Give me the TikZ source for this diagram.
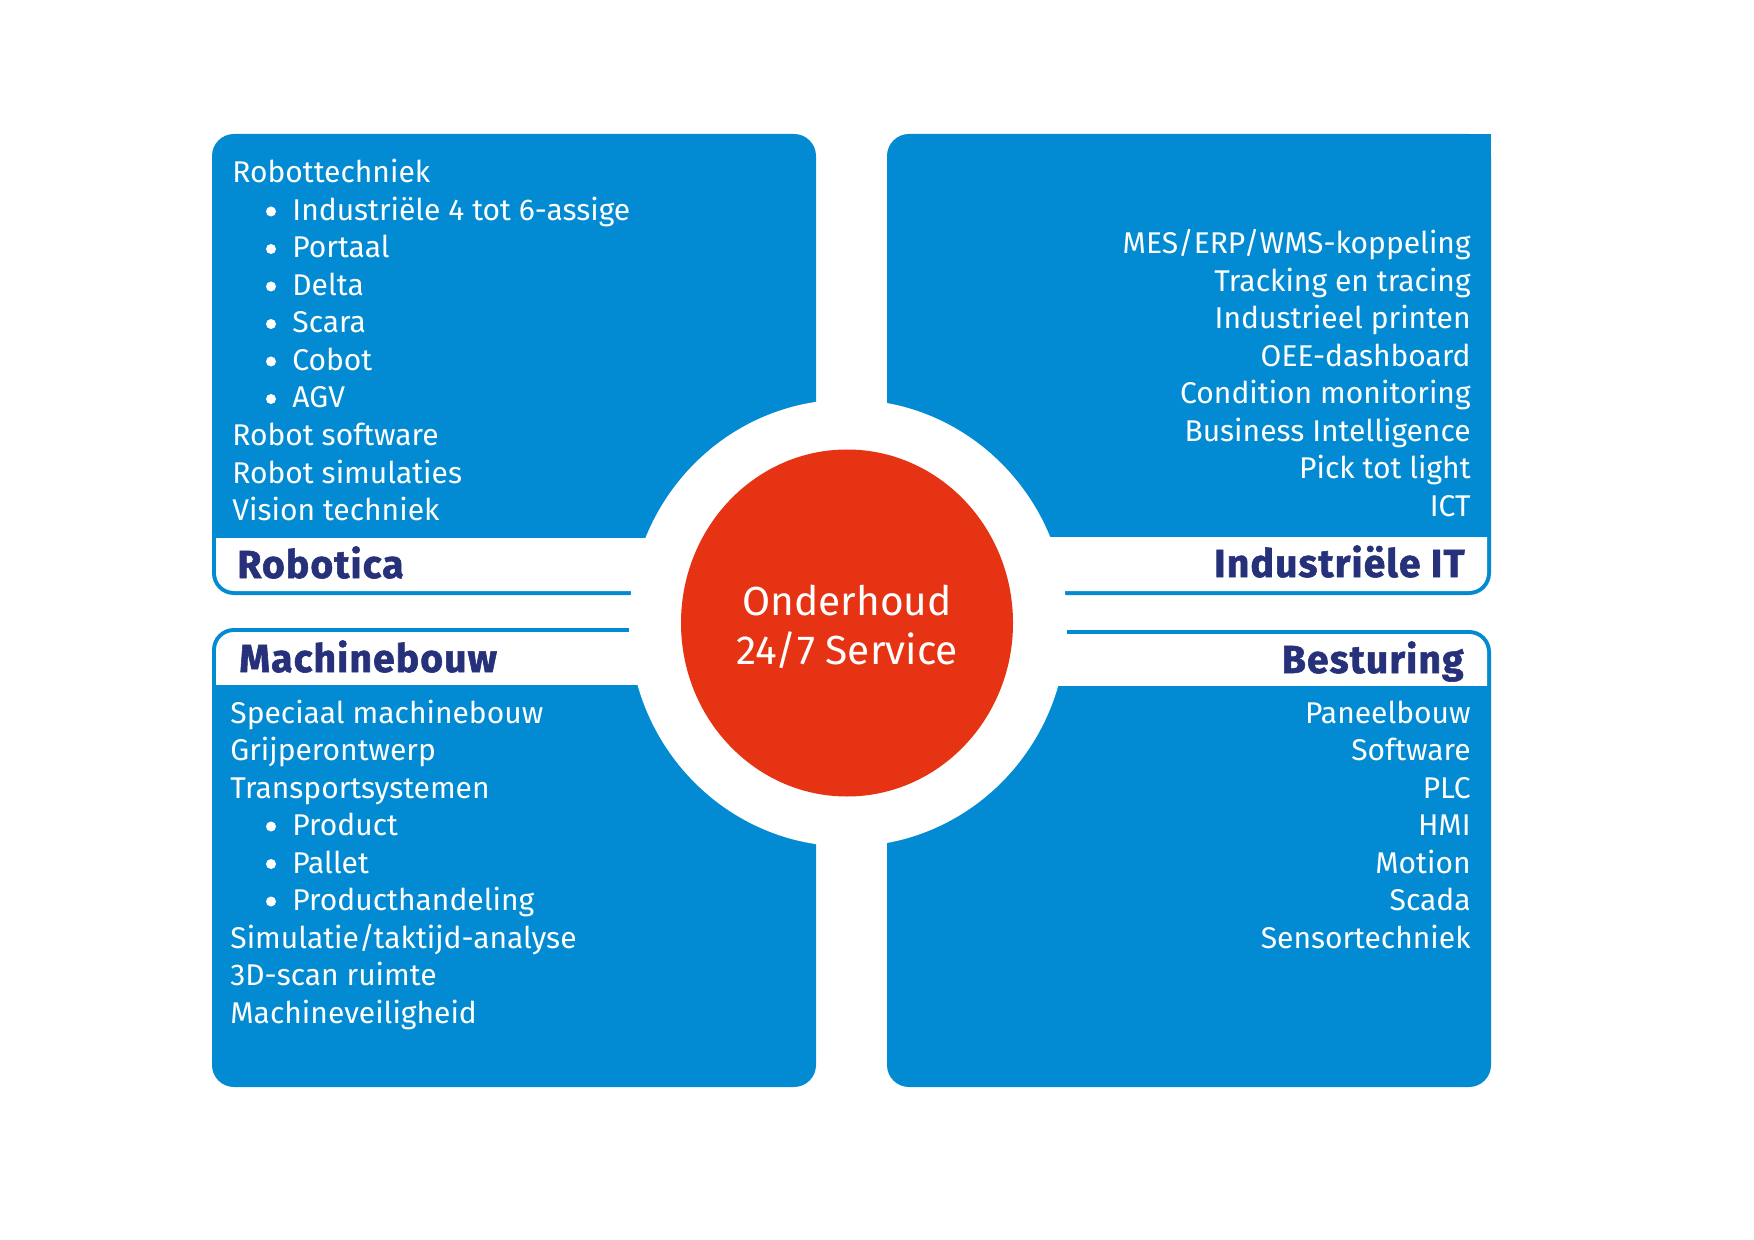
\documentclass[tikz,border=0pt]{standalone}
\usepackage{fontspec}
\setmainfont{Fira Sans}
\newfontfamily\kopfont{Fira Sans}[BoldFeatures={FakeBold=1.5, LetterSpace=3}]
\usetikzlibrary{shapes.geometric}
\definecolor{blauw}{RGB}{2,139,211}
\definecolor{rood}{RGB}{229,51,20}
\definecolor{donker}{RGB}{38,49,122}

\begin{document}
\begin{tikzpicture}[x=0.5pt,y=-0.5pt,
   punt/.style={font=\fontsize{15}{18}\selectfont, text=white, inner sep=0pt},
   kop/.style={font=\kopfont\fontsize{19.5}{22}\selectfont\bfseries, text=donker, inner sep=0pt}]
   \useasboundingbox[fill=white] (0,0) rectangle (1754,1240);
   % robotica (top left)
   \fill[blauw, rounded corners=11pt] (212,134) rectangle (816,595);
   \fill[white, rounded corners=9pt] (216,500) rectangle (830,591);
   \fill[blauw] (212,170) rectangle (816,538);
   % industriele IT (top right)
   \fill[blauw, rounded corners=11pt] (887,134) rectangle (1491,595);
   \fill[blauw] (1450,134) rectangle (1491,170);
   \fill[white, rounded corners=9pt] (870,500) rectangle (1487,591);
   \fill[blauw] (887,170) rectangle (1491,537);
   % machinebouw (bottom left)
   \fill[blauw, rounded corners=11pt] (212,628) rectangle (816,1087);
   \fill[white, rounded corners=9pt] (216,632) rectangle (830,720);
   \fill[blauw] (212,685) rectangle (816,1050);
   % besturing (bottom right)
   \fill[blauw, rounded corners=11pt] (887,630) rectangle (1491,1087);
   \fill[white, rounded corners=9pt] (870,634) rectangle (1487,720);
   \fill[blauw] (887,686) rectangle (1491,1050);
   % ring and centre
   \fill[white] (848,623) ellipse [x radius=219, y radius=223.5];
   \node[ellipse, fill=rood, minimum width=166pt, minimum height=173.5pt, inner sep=0pt] (kern) at (847,623) {};
   \node[align=center, text=white, font=\fontsize{20.3}{24.5}\selectfont] (service) at ([yshift=-2pt]kern.center)
         {Onderhoud\\24/7 Service};
   % headings
   \node[kop, anchor=base west] (robotica) at (237,578) {Robotica};
   \node[kop, anchor=base east] (industrie) at (1465,577) {Industriële IT};
   \node[kop, anchor=base west] (machine) at (239,672) {Machinebouw};
   \node[kop, anchor=base east] (besturing) at (1464,673) {Besturing};
   % lists
   \foreach \r/\t in {1/Robottechniek, 8/Robot software, 9/Robot simulaties, 10/Vision techniek} {
    \node[punt, anchor=base west] (rob\r) at (232,{183+37.5*(\r-1)}) {\t};
   }
   \foreach \r/\t in {2/Industriële 4 tot 6-assige, 3/Portaal, 4/Delta, 5/Scara, 6/Cobot, 7/AGV} {
    \fill[white] (271,{183+37.5*(\r-1)-9}) circle (2.5pt);
    \node[punt, anchor=base west] (rob\r) at (292,{183+37.5*(\r-1)}) {\t};
   }
   \foreach \r/\t in {1/Speciaal machinebouw, 2/Grijperontwerp, 3/Transportsystemen,
                      7/{Simulatie/taktijd-analyse}, 8/3D-scan ruimte, 9/Machineveiligheid} {
    \node[punt, anchor=base west] (mach\r) at (230,{723+37.5*(\r-1)}) {\t};
   }
   \foreach \r/\t in {4/Product, 5/Pallet, 6/Producthandeling} {
    \fill[white] (271,{723+37.5*(\r-1)-9}) circle (2.5pt);
    \node[punt, anchor=base west] (mach\r) at (292,{723+37.5*(\r-1)}) {\t};
   }
   \foreach \t [count=\r] in {MES/ERP/WMS-koppeling, Tracking en tracing, Industrieel printen,
                              OEE-dashboard, Condition monitoring, Business Intelligence,
                              Pick tot light, ICT} {
    \node[punt, anchor=base east] (it\r) at (1471,{254+37.5*(\r-1)}) {\t};
   }
   \foreach \t [count=\r] in {Paneelbouw, Software, PLC, HMI, Motion, Scada, Sensortechniek} {
    \node[punt, anchor=base east] (best\r) at (1471,{723+37.5*(\r-1)}) {\t};
   }
\end{tikzpicture}
\end{document}
